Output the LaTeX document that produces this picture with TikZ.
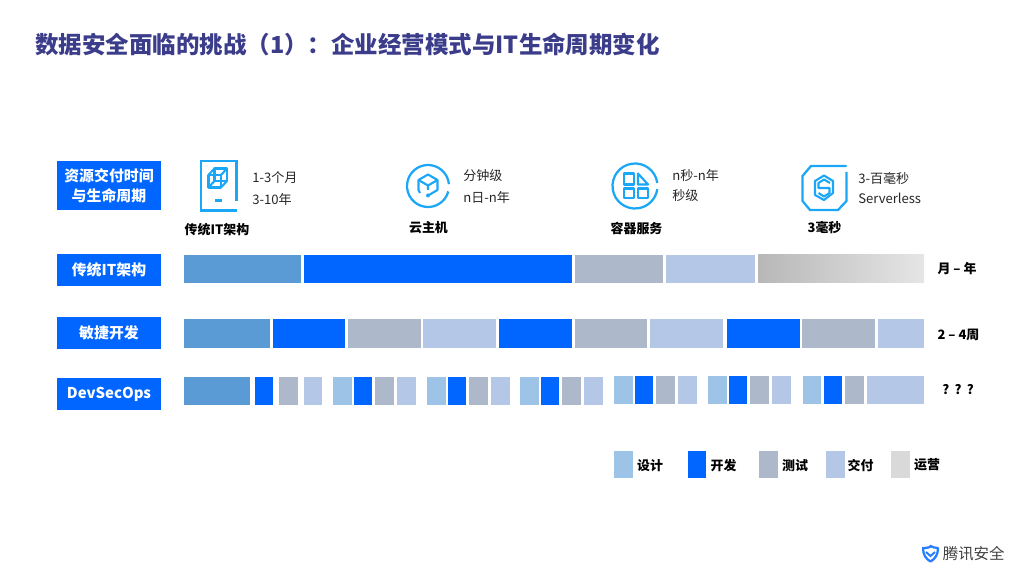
\documentclass[tikz,border=0pt]{standalone}
\usepackage{fontspec}
\setmainfont{Noto Sans CJK SC}
\usepackage{xcolor}
\usetikzlibrary{positioning}
\definecolor{titleblue}{HTML}{3B3D8B}
\definecolor{devblue}{HTML}{0066FF}
\definecolor{designblue}{HTML}{5B9BD5}
\definecolor{designlight}{HTML}{9DC3E6}
\definecolor{testgray}{HTML}{ADB9CA}
\definecolor{deliverblue}{HTML}{B4C7E7}
\definecolor{opsgray}{HTML}{D9D9D9}
\definecolor{iconblue}{HTML}{1AA7F7}
\tikzset{
  rowlabel/.style={fill=devblue, text=white, font=\fontsize{10.6}{14}\selectfont\bfseries, align=center, minimum width=2.6cm, inner sep=0pt},
  plain/.style={font=\fontsize{9.3}{11}\selectfont, anchor=west, inner sep=0pt, text=black!85},
  strong/.style={font=\fontsize{9.2}{11}\selectfont\bfseries, inner sep=0pt},
  icon/.style={draw=iconblue, line width=1.6pt},
  iconthin/.style={draw=iconblue, line width=1.5pt, line join=round}
}
\begin{document}
\begin{tikzpicture}[x=0.025cm, y=-0.025cm]
  \useasboundingbox (0,0) rectangle (1024,576);

  % title
  \node[font=\fontsize{16.7}{20}\selectfont\bfseries, text=titleblue, anchor=west, inner sep=0pt] (title) at (35,44) {数据安全面临的挑战（1）：企业经营模式与IT生命周期变化};

  % row labels
  \node[rowlabel, minimum height=1.225cm] (rowtime) at (109,185.5) {资源交付时间\\与生命周期};
  \node[rowlabel, minimum height=0.775cm] (rowlegacy) at (109,270) {传统IT架构};
  \node[rowlabel, minimum height=0.775cm] (rowagile) at (109,333) {敏捷开发};
  \node[rowlabel, minimum height=0.775cm] (rowdevsec) at (109,394) {DevSecOps};

  % icon 1: legacy
  \draw[icon] (236.5,201) -- (236.5,161) -- (201,161) -- (201,210.5) -- (236.5,210.5);
  \draw[icon] (215,200.5) -- (222,200.5);
  \draw[iconthin] (208.5,175) rectangle (221,187.5);
  \draw[iconthin] (214.5,168.5) rectangle (227,181);
  \draw[iconthin] (208.5,175) -- (214.5,168.5) (221,175) -- (227,168.5) (221,187.5) -- (227,181) (208.5,187.5) -- (214.5,181);
  \node[plain] (legacya) at (252,177.5) {1-3个月};
  \node[plain] (legacyb) at (252,199.5) {3-10年};
  \node[strong] (legacyname) at (217,229.5) {传统IT架构};

  % icon 2: cloud host
  \draw[icon] (428,186) ++(-5:21) arc (-5:-345:21);
  \draw[iconthin] (420,193) -- (418.5,190) -- (418.5,180) -- (428,174.5) -- (437.5,180) -- (437.5,190) -- (429,195);
  \draw[iconthin] (418.5,180) -- (428,185.5) -- (437.5,180) (428,185.5) -- (428,190);
  \fill[iconblue] (428,195.5) circle (2);
  \node[plain] (hosta) at (463,175.5) {分钟级};
  \node[plain] (hostb) at (463,197.5) {n日-n年};
  \node[strong] (hostname) at (428.5,227.5) {云主机};

  % icon 3: container
  \draw[icon] (635,186) ++(-8:22.5) arc (-8:-352:22.5);
  \draw[iconthin] (624,173.5) rectangle (634,184.5);
  \draw[iconthin] (638,173.5) -- (648,184.5) -- (638,184.5) -- cycle;
  \draw[iconthin] (624,188.5) rectangle (634,198);
  \draw[iconthin] (638,188.5) rectangle (648,198);
  \node[plain] (boxa) at (672,175.5) {n秒-n年};
  \node[plain] (boxb) at (672,195.5) {秒级};
  \node[strong] (boxname) at (636.5,228.5) {容器服务};

  % icon 4: serverless
  \draw[icon] (846.5,166) -- (811,166) -- (802.5,176) -- (802.5,201) -- (810,210) -- (838,210) -- (846.5,201) -- (846.5,172);
  \draw[iconthin] (815,181) -- (824,175.5) -- (833,181) -- (833,193) -- (824,200) -- (815,195) -- cycle;
  \draw[iconthin] (830,183) -- (824,179.5) -- (818.5,183) -- (818.5,188) -- (829.5,188) -- (829.5,193) -- (824,196.5) -- (818.5,193);
  \node[plain] (funca) at (858,178.5) {3-百毫秒};
  \node[plain] (funcb) at (858,198.5) {Serverless};
  \node[strong] (funcname) at (824.5,227.5) {3毫秒};

  % row 1
  \fill[designblue] (184,255) rectangle (301,283);
  \fill[devblue] (304,255) rectangle (572,283);
  \fill[testgray] (575,255) rectangle (663,283);
  \fill[deliverblue] (666,255) rectangle (755,283);
  \shade[left color=black!28, right color=black!10] (758,255) rectangle (924,283);
  \node[strong] (spanlegacy) at (957,268.5) {月 – 年};

  % row 2
  \fill[designblue] (184,319.5) rectangle (269.5,347.5);
  \foreach \xa/\xb in {272.5/345, 499/572, 727/800} \fill[devblue] (\xa,319.5) rectangle (\xb,347.5);
  \foreach \xa/\xb in {348/420.5, 575/647, 802/875} \fill[testgray] (\xa,319.5) rectangle (\xb,347.5);
  \foreach \xa/\xb in {423/496, 650/723, 878/924} \fill[deliverblue] (\xa,319.5) rectangle (\xb,347.5);
  \node[strong] (spanagile) at (958.5,334.5) {2 – 4周};

  % row 3
  \fill[designblue] (184,377) rectangle (250,405);
  \foreach \xa/\xt in {255/377, 354/377, 448/377, 541/377, 635/376, 729/376, 824/376} \fill[devblue] (\xa,\xt) rectangle ++(18,28);
  \foreach \xa/\xt in {333/377, 427/377, 520/377, 614/376, 708/376, 802.5/376} \fill[designlight] (\xa,\xt) rectangle ++(18.5,28);
  \foreach \xa/\xt in {279/377, 375/377, 469/377, 562/377, 656/376, 750/376, 845/376} \fill[testgray] (\xa,\xt) rectangle ++(19,28);
  \foreach \xa/\xt in {303.5/377, 397/377, 491/377, 584/377, 678/376, 772/376} \fill[deliverblue] (\xa,\xt) rectangle ++(18.5,28);
  \fill[deliverblue] (867,376) rectangle (924,404);
  \node[strong, font=\fontsize{9.2}{11}\selectfont\bfseries\addfontfeature{LetterSpace=8}] (spandevsec) at (958,389.5) {? ? ?};

  % legend
  \fill[designlight] (614,450.5) rectangle (632.5,478);
  \fill[devblue] (687.5,450.5) rectangle (706,478);
  \fill[testgray] (759,450.5) rectangle (777.5,478);
  \fill[deliverblue] (826,450.5) rectangle (844.5,478);
  \fill[opsgray] (891,450.5) rectangle (909.5,478);
  \node[strong] (keydesign) at (650,465.5) {设计};
  \node[strong] (keydev) at (723.5,465.5) {开发};
  \node[strong] (keytest) at (795,465.5) {测试};
  \node[strong] (keydeliver) at (860.5,465.5) {交付};
  \node[strong] (keyops) at (927,464.5) {运营};

  % logo
  \draw[draw=devblue!85, line width=1.6pt, line join=round] (923,548) .. controls (928,548) and (931,547) .. (930.5,546) .. controls (932,547) and (935,548) .. (938,548) .. controls (938,555) and (935,559) .. (930.5,561.5) .. controls (926,559) and (923,555) .. (923,548) -- cycle;
  \draw[draw=devblue!85, line width=1.4pt] (926,552) -- (930.5,556) -- (935,552);
  \node[font=\fontsize{11}{13}\selectfont, text=black!75, anchor=west, inner sep=0pt] (logotext) at (942.5,554) {腾讯安全};
\end{tikzpicture}
\end{document}
